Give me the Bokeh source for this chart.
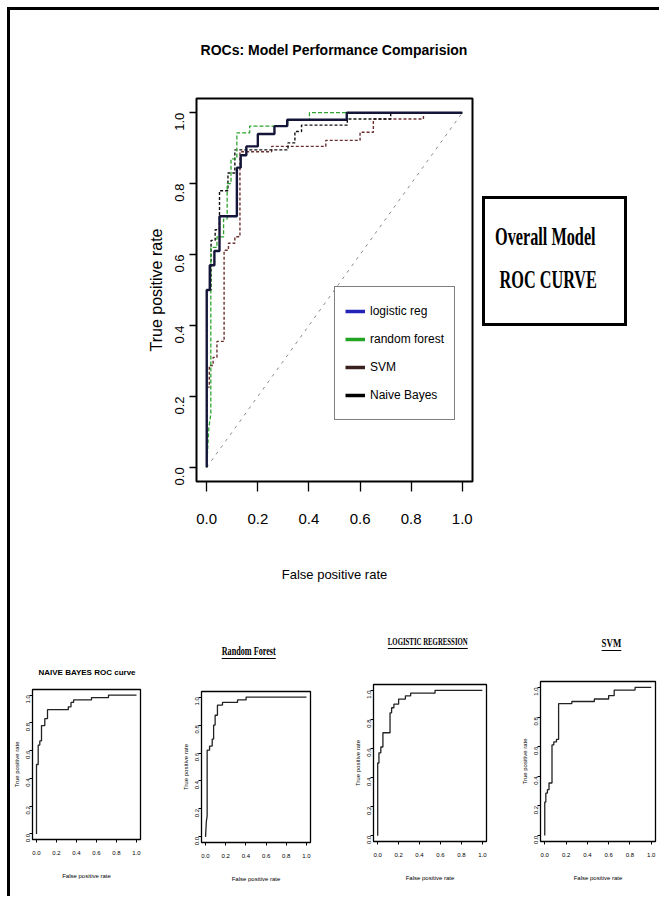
import math
from bokeh.plotting import figure
from bokeh.layouts import row, column
from bokeh.models import Div, Spacer, Legend, LegendItem, FixedTicker
from bokeh.embed import file_html
from bokeh.resources import INLINE

SANS = "'Liberation Sans', Arial, sans-serif"
SERIF = "'Liberation Serif', 'Times New Roman', serif"

# ---------------- data ----------------
main_title = "ROCs: Model Performance Comparision"
legend_labels = ["logistic reg", "random forest", "SVM", "Naive Bayes"]
tick_values = [0.0, 0.2, 0.4, 0.6, 0.8, 1.0]
tick_labels = ["0.0", "0.2", "0.4", "0.6", "0.8", "1.0"]

lr_fpr = [0, 0, 0.012, 0.012, 0.03, 0.03, 0.05, 0.05, 0.118, 0.118, 0.133, 0.133, 0.155, 0.155,
          0.2, 0.2, 0.265, 0.265, 0.315, 0.315, 0.548, 0.548, 1.0]
lr_tpr = [0, 0.5, 0.5, 0.57, 0.57, 0.61, 0.61, 0.708, 0.708, 0.845, 0.845, 0.88, 0.88, 0.905,
          0.905, 0.94, 0.94, 0.962, 0.962, 0.98, 0.98, 1.0, 1.0]

rf_fpr = [0, 0.008, 0.016, 0.016, 0.04, 0.04, 0.066, 0.066, 0.08, 0.08, 0.095, 0.095, 0.118, 0.118,
          0.168, 0.168, 0.317, 0.317, 0.402, 0.402, 1.0]
rf_tpr = [0, 0.11, 0.15, 0.62, 0.62, 0.65, 0.65, 0.70, 0.70, 0.80, 0.80, 0.87, 0.87, 0.943,
          0.943, 0.962, 0.962, 0.98, 0.98, 1.0, 1.0]

svm_fpr = [0, 0, 0.01, 0.01, 0.025, 0.025, 0.04, 0.04, 0.068, 0.068, 0.085, 0.085, 0.11, 0.11,
           0.13, 0.13, 0.254, 0.254, 0.466, 0.466, 0.60, 0.60, 0.652, 0.652, 0.848, 0.848, 1.0]
svm_tpr = [0, 0.226, 0.226, 0.287, 0.287, 0.31, 0.31, 0.355, 0.355, 0.612, 0.612, 0.632, 0.632,
           0.65, 0.65, 0.89, 0.89, 0.905, 0.905, 0.922, 0.922, 0.945, 0.945, 0.982, 0.982, 1.0, 1.0]

nb_fpr = [0, 0, 0.017, 0.017, 0.033, 0.033, 0.05, 0.05, 0.083, 0.083, 0.11, 0.11, 0.318, 0.318,
          0.345, 0.345, 0.371, 0.371, 0.55, 0.55, 0.72, 0.72, 1.0]
nb_tpr = [0, 0.5, 0.5, 0.64, 0.64, 0.67, 0.67, 0.78, 0.78, 0.83, 0.83, 0.895, 0.895, 0.915,
          0.915, 0.947, 0.947, 0.965, 0.965, 0.982, 0.982, 1.0, 1.0]

diag_fpr = [0.0, 1.0]
diag_tpr = [0.0, 1.0]

small_titles = ["NAIVE BAYES ROC curve", "Random Forest", "LOGISTIC REGRESSION", "SVM"]
box_lines = ["Overall Model", "ROC CURVE"]
x_label = "False positive rate"
y_label = "True positive rate"

overrides = dict(zip(tick_values, tick_labels))

# ---------------- main title (above the main chart) ----------------
title_div = Div(
    text=(f"<div style=\"width: 276px; margin-left: 186px; padding-top: 32px; text-align: center;"
          f" font-family: 'Liberation Sans', Arial, sans-serif; font-weight: bold; font-size: 14px;"
          f" line-height: 16px; color: black; white-space: nowrap;\">{main_title}</div>"),
    width=467, height=60, margin=0)

# ---------------- main figure ----------------
p = figure(width=467, height=532, frame_width=276, frame_height=383,
           min_border_left=186, min_border_right=5, min_border_top=28, min_border_bottom=121,
           x_range=(-0.04, 1.04), y_range=(-0.04, 1.04), title=None,
           output_backend="svg", toolbar_location=None)
p.grid.visible = False
p.outline_line_color = "black"
p.outline_line_width = 2
p.background_fill_color = "white"
p.border_fill_color = "white"

p.line(diag_fpr, diag_tpr, line_color="#8a8a8a", line_width=1, line_dash="3 5")
p.line(svm_fpr, svm_tpr, line_color="#6b3030", line_width=1.4, line_dash="3 2")
p.line(nb_fpr, nb_tpr, line_color="#111111", line_width=1.4, line_dash="3 2")
p.line(rf_fpr, rf_tpr, line_color="#2fa52f", line_width=1.3, line_dash="4 2")
p.line(lr_fpr, lr_tpr, line_color="#15153a", line_width=2.4)

# legend keys: single-point lines (draw nothing in the frame, only in the legend)
legend_colors = ["#2323b8", "#22a322", "#3a1f1f", "#000000"]
key_sources = [(lr_fpr, lr_tpr), (rf_fpr, rf_tpr), (svm_fpr, svm_tpr), (nb_fpr, nb_tpr)]
leg_renderers = [p.line([fx[0]], [fy[0]], line_color=c, line_width=3.5)
                 for c, (fx, fy) in zip(legend_colors, key_sources)]
legend = Legend(items=[LegendItem(label=l, renderers=[r]) for l, r in zip(legend_labels, leg_renderers)],
                location=(138, 61), orientation="vertical",
                border_line_color="black", border_line_width=1.5,
                padding=10, spacing=0, margin=0,
                label_height=28, glyph_height=28, glyph_width=20, label_standoff=5,
                label_text_font=SANS, label_text_font_size="12px", label_text_color="black",
                background_fill_alpha=1.0)
p.add_layout(legend)

for ax in (p.xaxis, p.yaxis):
    ax.ticker = FixedTicker(ticks=tick_values)
    ax.major_label_overrides = overrides
    ax.axis_line_color = None
    ax.minor_tick_line_color = None
    ax.major_tick_in = 0
    ax.major_tick_line_color = "black"
    ax.major_tick_line_width = 1.3
    ax.axis_label_text_font_style = "normal"
    ax.axis_label_text_color = "black"
    ax.major_label_text_color = "black"

p.xaxis.major_tick_out = 10
p.xaxis.major_label_standoff = 22
p.xaxis.major_label_text_font = SANS
p.xaxis.major_label_text_font_size = "15px"
p.xaxis.axis_label = x_label
p.xaxis.axis_label_text_font = SANS
p.xaxis.axis_label_text_font_size = "13px"
p.xaxis.axis_label_standoff = 40

p.yaxis.major_tick_out = 7
p.yaxis.major_label_standoff = 10
p.yaxis.major_label_orientation = math.pi / 2
p.yaxis.major_label_text_font = SANS
p.yaxis.major_label_text_font_size = "13px"
p.yaxis.axis_label = y_label
p.yaxis.axis_label_text_font = SANS
p.yaxis.axis_label_text_font_size = "16px"
p.yaxis.axis_label_standoff = 3

# ---------------- "Overall Model ROC CURVE" box ----------------
box_html = (
    "<div style=\"font-family: 'Liberation Serif', 'Times New Roman', serif; font-weight: bold;"
    " font-size: 25px; line-height: 25px; color: black; padding-top: 25px; padding-left: 10px;\">"
    f"<div style=\"transform: scaleX(0.65); transform-origin: left center; white-space: nowrap;\">{box_lines[0]}</div>"
    f"<div style=\"transform: scaleX(0.65); transform-origin: left center; white-space: nowrap; margin-top: 18px; padding-left: 7px;\">{box_lines[1]}</div>"
    "</div>"
)
box_div = Div(text=box_html, width=145, height=130, margin=0,
              styles={"border": "3px solid black", "box-sizing": "border-box", "background": "white"})

top_row = row(column(title_div, p, margin=0), Spacer(width=5, height=10, margin=0),
              column(Spacer(width=10, height=186, margin=0), box_div, margin=0), margin=0)

# ---------------- small plots ----------------
cells = [
    # title, fpr, tpr, width, frame_w, frame_h, b_left, b_right, b_top, b_bottom, title style, underline
    (small_titles[0], nb_fpr, nb_tpr, 154, 108, 150, 22, 24, 11, 51,
     "font-family: 'Liberation Sans', Arial, sans-serif; font-weight: bold; font-size: 8px; line-height: 10px; padding-top: 66px; padding-left: 0px;", False),
    (small_titles[1], rf_fpr, rf_tpr, 170, 109, 151, 37, 24, 13, 48,
     "font-family: 'Liberation Serif', serif; font-weight: bold; font-size: 12px; line-height: 14px; padding-top: 42px; padding-left: 0px;", True),
    (small_titles[2], lr_fpr, lr_tpr, 170, 113, 157, 39, 18, 6, 49,
     "font-family: 'Liberation Serif', serif; font-weight: bold; font-size: 10px; line-height: 12px; padding-top: 34px; padding-left: 18px;", True),
    (small_titles[3], svm_fpr, svm_tpr, 155, 115, 160, 36, 4, 3, 49,
     "font-family: 'Liberation Serif', serif; font-weight: bold; font-size: 13px; line-height: 15px; padding-top: 33px; padding-left: 60px;", True),
]

bottom_children = []
for (title, fx, fy, w, fw, fh, bl, br, bt, bb, tstyle, under) in cells:
    deco = "text-decoration: underline; text-underline-offset: 3px;" if under else ""
    scale = "transform: scaleX(0.68);" if under else ""
    html = (f"<div style=\"{tstyle} text-align: center; width: {w}px; color: black;\">"
            f"<span style=\"display: inline-block; {scale} {deco} white-space: nowrap;\">{title}</span></div>")
    tdiv = Div(text=html, width=w, height=76, margin=0)
    s = figure(width=w, height=212, frame_width=fw, frame_height=fh,
               min_border_left=bl, min_border_right=br, min_border_top=bt, min_border_bottom=bb,
               x_range=(-0.04, 1.04), y_range=(-0.04, 1.04),
               output_backend="svg", toolbar_location=None)
    s.grid.visible = False
    s.outline_line_color = "black"
    s.outline_line_width = 1.3
    s.background_fill_color = "white"
    s.border_fill_color = "white"
    s.line(fx, fy, line_color="#222222", line_width=1.3)
    for ax in (s.xaxis, s.yaxis):
        ax.ticker = FixedTicker(ticks=tick_values)
        ax.major_label_overrides = overrides
        ax.axis_line_color = None
        ax.minor_tick_line_color = None
        ax.major_tick_in = 0
        ax.major_tick_out = 3
        ax.major_tick_line_color = "black"
        ax.major_label_text_font = SANS
        ax.major_label_text_font_size = "6px"
        ax.major_label_text_color = "black"
        ax.axis_label_text_font = SANS
        ax.axis_label_text_font_size = "6px"
        ax.axis_label_text_font_style = "normal"
        ax.axis_label_text_color = "black"
    s.xaxis.major_label_standoff = 8
    s.xaxis.axis_label = x_label
    s.xaxis.axis_label_standoff = 15
    s.yaxis.major_label_standoff = 1
    s.yaxis.major_label_orientation = math.pi / 2
    s.yaxis.axis_label = y_label
    s.yaxis.axis_label_standoff = 2
    bottom_children.append(column(tdiv, s, margin=0))

bottom_row = row(*bottom_children, margin=0)

layout = column(top_row, bottom_row, Spacer(width=10, height=6, margin=0), margin=(7, 0, 0, 7),
                styles={"border-top": "3px solid black", "border-left": "3px solid black"})

open("out.html", "w").write(file_html(layout, INLINE))
